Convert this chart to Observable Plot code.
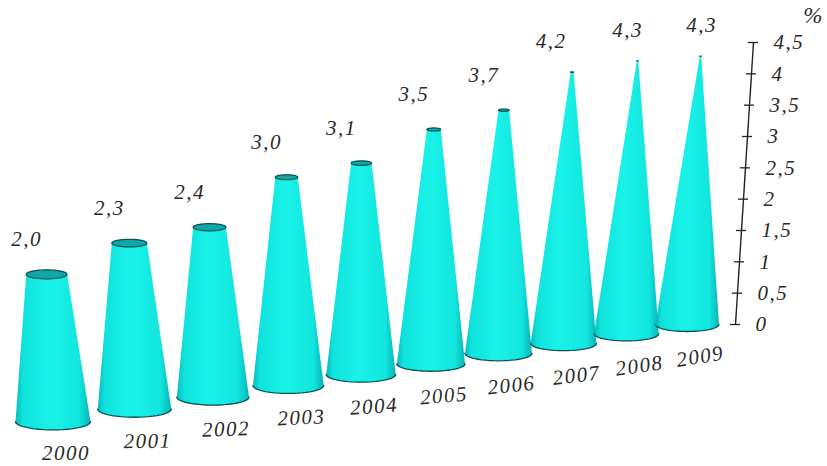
<!DOCTYPE html>
<html>
<head>
<meta charset="utf-8">
<script src="https://cdn.jsdelivr.net/npm/d3@7"></script>
<script src="https://cdn.jsdelivr.net/npm/@observablehq/plot@0.6"></script>
<style>
html,body{margin:0;padding:0;background:#fff}
svg{display:block}
svg text{letter-spacing:1.5px}
</style>
</head>
<body>
<div id="chart"></div>
<script>
const years = [2000, 2001, 2002, 2003, 2004, 2005, 2006, 2007, 2008, 2009];
const values = [2.0, 2.3, 2.4, 3.0, 3.1, 3.5, 3.7, 4.2, 4.3, 4.3];
const ticks = [0, 0.5, 1, 1.5, 2, 2.5, 3, 3.5, 4, 4.5];
const unitLabel = "%";

const comma = v => String(v).replace(".", ",");
const fixedComma = v => v.toFixed(1).replace(".", ",");

// Perspective model of the floor: a cone's depth is its position in the series.
const depth = 0.02, pxPerUnit = 282 / 4.5, apex = 4.4, ellipse = 0.22;
const vanishX = 4210, vanishY = 8.61, nearX = 52.5, nearY = -1.55, nearR = 37.5, nearH = 1.175;
const shrink = i => 1 / (1 + depth * i);
const baseX = i => vanishX + (nearX - vanishX) * shrink(i);
const baseY = i => vanishY + (nearY - vanishY) * shrink(i);
const heightAt = (i, v) => nearH * shrink(i) * v;
const centreX = (i, v) => baseX(i) + (baseX(i) - 347) * 0.000146 * heightAt(i, v) * pxPerUnit;
const centreY = (i, v) => baseY(i) + heightAt(i, v);
const radius = (i, v) => nearR * shrink(i) * Math.max(0, 1 - v / apex);
const rim = (i, v, t) => ({
  year: years[i],
  x: centreX(i, v) + radius(i, v) * Math.cos(t),
  y: centreY(i, v) + radius(i, v) * ellipse * Math.sin(t) / pxPerUnit
});
const steps = d3.range(0, 25).map(k => k / 24);
const order = d3.range(years.length).reverse();

// silhouette: back half of the top rim, front half of the base rim
const bodies = order.flatMap(i => [
  ...steps.map(f => rim(i, values[i], Math.PI * f)),
  ...steps.map(f => rim(i, 0, Math.PI + Math.PI * f))
]);
const baseArcs = order.flatMap(i => steps.map(f => rim(i, 0, Math.PI + Math.PI * f)));
const tops = order.flatMap(i => [...steps, ...steps.map(f => 1 + f)].map(f => rim(i, values[i], Math.PI * f)));

const axisX = v => 735 + 4 * v;
const serif = "'Liberation Serif','Times New Roman',serif";
const labelStyle = {
  fontFamily: serif, fontStyle: "italic", fontSize: 21, fill: "#2a2a2a"
};

const defs = () => {
  const svg = d3.create("svg:defs");
  const g = svg.append("linearGradient").attr("id", "cone").attr("x1", 0).attr("x2", 1).attr("y1", 0).attr("y2", 0);
  [[0, "#04bcbc"], [0.1, "#10e2dc"], [0.45, "#1af2e8"], [0.85, "#12e6de"], [1, "#04b4b4"]]
    .forEach(([o, c]) => g.append("stop").attr("offset", o).attr("stop-color", c));
  return svg.node();
};

const chart = Plot.plot({
  width: 827,
  height: 466,
  marginLeft: 0,
  marginRight: 0,
  marginTop: 42,
  marginBottom: 142,
  style: {background: "#fff"},
  x: {domain: [0, 827], range: [0, 827], axis: null},
  y: {domain: [0, 4.5], axis: null},
  marks: [
    defs,
    Plot.line(bodies, {x: "x", y: "y", z: "year", fill: "url(#cone)", stroke: "none"}),
    Plot.line(baseArcs, {x: "x", y: "y", z: "year", stroke: "#0b4f55", strokeWidth: 1.3}),
    Plot.line(tops, {x: "x", y: "y", z: "year", fill: "#0fa6a6", stroke: "#0b4f55", strokeWidth: 1.2}),
    // slanted value axis
    Plot.link([0], {x1: () => axisX(0), y1: () => 0, x2: () => axisX(4.5), y2: () => 4.5, stroke: "#222", strokeWidth: 1.4}),
    Plot.ruleY(ticks, {y: d => d, x1: d => axisX(d) - 5, x2: d => axisX(d) + 5, stroke: "#222", strokeWidth: 1.3}),
    Plot.text(ticks, {
      x: d => axisX(d) + 20, y: d => d, text: comma, textAnchor: "start", ...labelStyle
    }),
    Plot.text([unitLabel], {x: () => axisX(4.5) + 60, y: () => 4.93, text: d => d, ...labelStyle, fontSize: 23}),
    // value labels
    Plot.text(values, {
      x: (d, i) => centreX(i, d) + (i < 7 ? -20 : -21 + (i - 7) * 11),
      y: (d, i) => centreY(i, d) + (i < 7 ? 35 : 31) / pxPerUnit,
      text: fixedComma, ...labelStyle
    }),
    // year labels
    Plot.text(years, {
      x: (d, i) => baseX(i) + 13,
      y: (d, i) => baseY(i) - 32 / pxPerUnit,
      rotate: (d, i) => -i,
      text: d => String(d), ...labelStyle
    })
  ]
});
document.getElementById("chart").appendChild(chart);
</script>
</body>
</html>
